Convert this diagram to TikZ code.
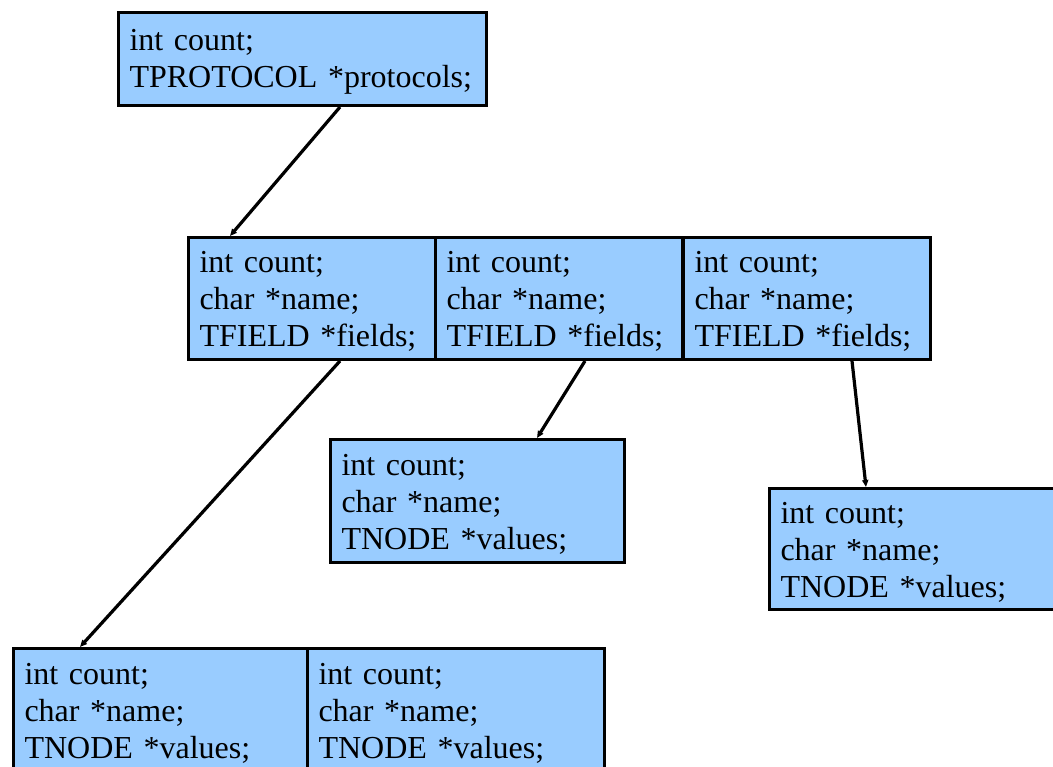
\documentclass[tikz,border=0pt]{standalone}
\usepackage{fontspec}
\setmainfont{Liberation Serif}
\usetikzlibrary{positioning,arrows.meta}
\definecolor{boxblue}{RGB}{153,204,255}

\begin{document}
\begin{tikzpicture}[
    x=1pt, y=-1pt,
    rec/.style n args={2}{draw, line width=3pt, fill=boxblue, anchor=north west, inner xsep=11pt, inner ysep=0pt,
        text width=#1pt, minimum height=#2pt, align=left, font=\fontsize{32}{37}\selectfont,
        execute at begin node={\rule{0pt}{27pt}}},
    conn/.style={line width=3.2pt, -{Triangle[length=7pt, width=6pt]}},
]
    \useasboundingbox (0,0) rectangle (1053,767);

    \node[rec={346}{93}] (top) at (117,11) {int count;\\TPROTOCOL *protocols;};

    \node[rec={225}{122}] (m1) at (187,236) {int count;\\char *name;\\TFIELD *fields;};
    \node[rec={225}{122}] (m2) at (434,236) {int count;\\char *name;\\TFIELD *fields;};
    \node[rec={225}{122}] (m3) at (682,236) {int count;\\char *name;\\TFIELD *fields;};

    \node[rec={272}{123}] (v1) at (329,438) {int count;\\char *name;\\TNODE *values;};
    \node[rec={278}{121}] (v2) at (768,487) {int count;\\char *name;\\TNODE *values;};

    \node[rec={272}{124}] (b1) at (12,647) {int count;\\char *name;\\TNODE *values;};
    \node[rec={275}{124}] (b2) at (306,647) {int count;\\char *name;\\TNODE *values;};

    \foreach \a/\sa/\b/\sb in {top/223/m1/43, m1/153/b1/68, m2/151/v1/208, m3/170/v2/98} {
        \draw[conn] ([xshift=\sa pt]\a.south west) -- ([xshift=\sb pt]\b.north west);
    }
\end{tikzpicture}
\end{document}
